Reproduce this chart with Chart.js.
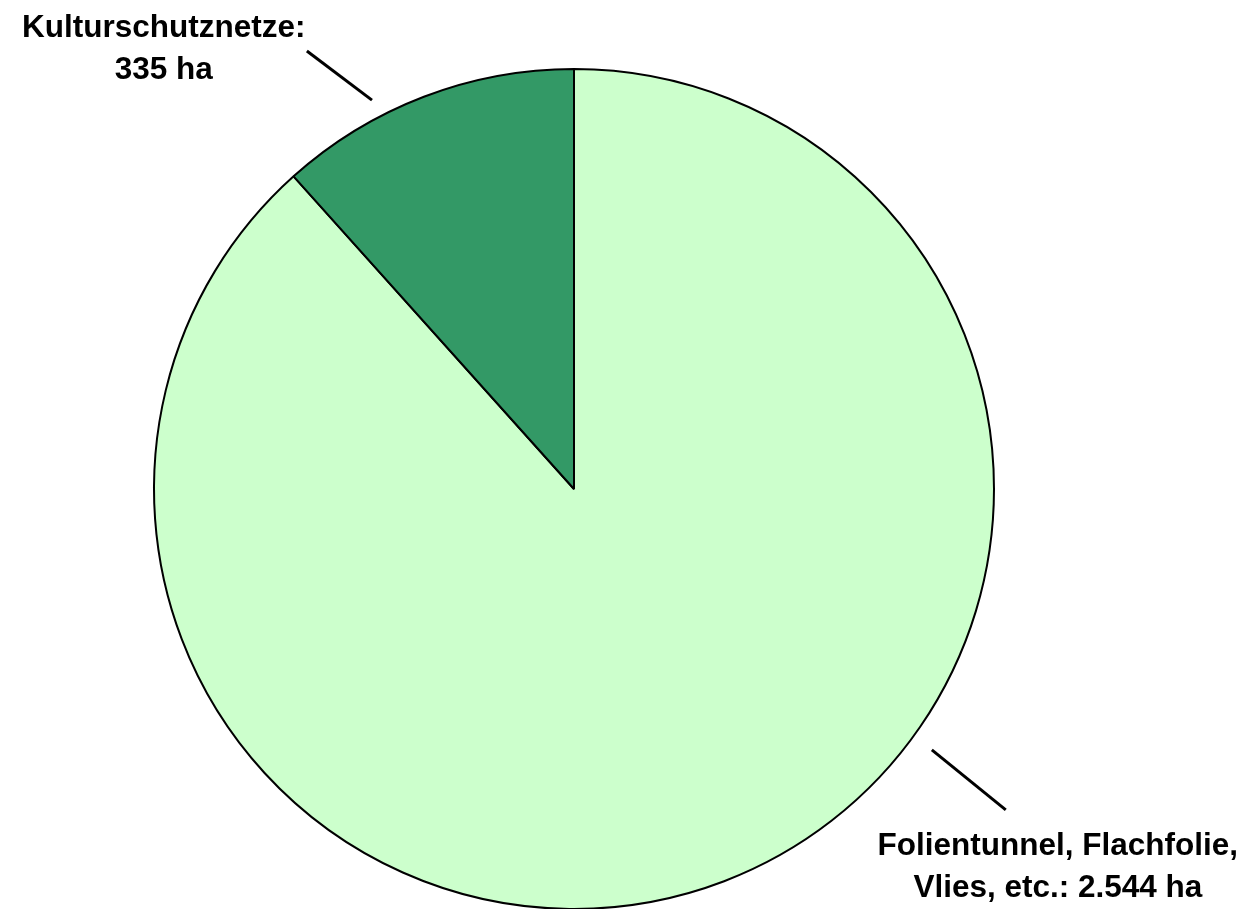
<!DOCTYPE html>
<html>
<head>
<meta charset="utf-8">
<script src="https://cdn.jsdelivr.net/npm/chart.js@4/dist/chart.umd.min.js"></script>
<style>
  html, body { margin: 0; padding: 0; background: #ffffff; overflow: hidden; }
  #wrap { position: absolute; left: 0; top: 0; width: 1245px; height: 1000px; }
</style>
</head>
<body>
<div id="wrap"><canvas id="c" width="1245" height="1000"></canvas></div>
<script>
const categories = ["Folientunnel, Flachfolie, Vlies, etc.", "Kulturschutznetze"];
const values = [2544, 335];
const labelLines = [
  ["Folientunnel, Flachfolie,", "Vlies, etc.: 2.544 ha"],
  ["Kulturschutznetze:", "335 ha"]
];
const colors = ["#CCFFCC", "#339966"];

// label placement relative to pie centre, in units of radius
const labelPlacement = [
  { tx: 1.152, ty: 0.872, lx1: 0.852, ly1: 0.621, lx2: 1.028, ly2: 0.764 },
  { tx: -0.977, ty: -1.076, lx1: -0.481, ly1: -0.926, lx2: -0.636, ly2: -1.043 }
];

const labelPlugin = {
  id: 'pieLabels',
  afterDatasetsDraw(chart) {
    const ctx = chart.ctx;
    const meta = chart.getDatasetMeta(0);
    meta.data.forEach((arc, i) => {
      const { x, y, outerRadius: r } = arc.getProps(['x', 'y', 'outerRadius'], true);
      const p = labelPlacement[i];
      ctx.save();
      ctx.strokeStyle = '#000';
      ctx.lineWidth = 3;
      ctx.beginPath();
      ctx.moveTo(x + p.lx1 * r, y + p.ly1 * r);
      ctx.lineTo(x + p.lx2 * r, y + p.ly2 * r);
      ctx.stroke();
      ctx.fillStyle = '#000';
      ctx.font = 'bold 31.5px "Liberation Sans", Arial, sans-serif';
      ctx.textAlign = 'center';
      ctx.textBaseline = 'alphabetic';
      const lines = labelLines[i];
      lines.forEach((t, k) => {
        ctx.fillText(t, x + p.tx * r, y + p.ty * r + k * 42);
      });
      ctx.restore();
    });
  }
};

new Chart(document.getElementById('c'), {
  type: 'pie',
  data: {
    labels: categories,
    datasets: [{
      data: values,
      backgroundColor: colors,
      borderColor: '#000000',
      borderWidth: 2,
      hoverOffset: 0
    }]
  },
  options: {
    responsive: false,
    animation: false,
    layout: { padding: { left: 153, right: 250, top: 68, bottom: 90 } },
    plugins: { legend: { display: false }, tooltip: { enabled: false } }
  },
  plugins: [labelPlugin]
});
</script>
</body>
</html>
